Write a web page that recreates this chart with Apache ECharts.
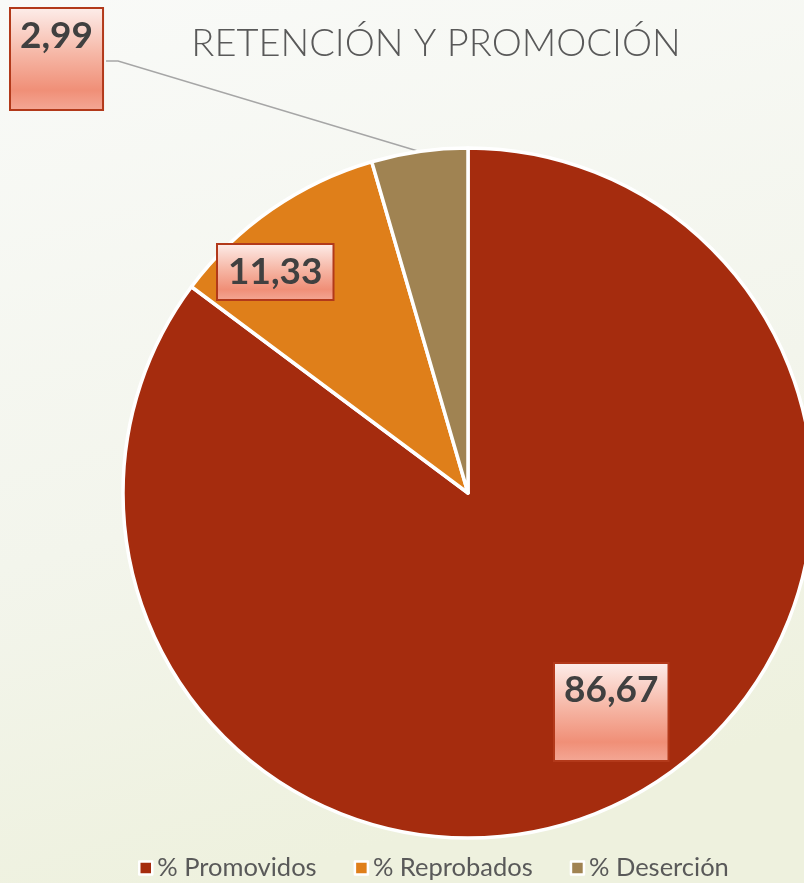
<!DOCTYPE html>
<html>
<head>
<meta charset="utf-8">
<script src="https://cdn.jsdelivr.net/npm/echarts@6/dist/echarts.min.js"></script>
<style>
    html, body { margin: 0; padding: 0; }
    #main { width: 804px; height: 883px; }
</style>
</head>
<body>
<div id="main"></div>
<script>
// categorias y valores
const categories = ['% Promovidos', '% Reprobados', '% Deserción']
// tamaño de cada porción tal como se ve en el dibujo
const sliceValues = [85.2, 10.3, 4.5]
// textos de las etiquetas
const labelTexts = ['86,67', '11,33', '2,99']
const colors = ['#a52c0e', '#df7f1a', '#a08352']

// posiciones de las cajas de etiquetas (esquina superior izquierda)
const labelBoxes = [
    { x: 555, y: 664, pad: [6, 9, 50, 9] },
    { x: 218, y: 245, pad: [7, 10, 7, 10] },
    { x: 11, y: 9, pad: [7, 9, 53, 9] },
]

const boxGradient = new echarts.graphic.LinearGradient(0, 0, 0, 1, [
    { offset: 0, color: '#fdeeeb' },
    { offset: 0.45, color: '#f6b7a6' },
    { offset: 0.8, color: '#f08f77' },
    { offset: 1, color: '#f4a896' },
])

const buildData = function () {
    let data = []
    for (let i = 0; i < categories.length; i++) {
        let b = labelBoxes[i]
        data.push({
            name: categories[i],
            value: sliceValues[i],
            itemStyle: { color: colors[i] },
            label: {
                position: i === 2 ? 'outside' : 'inside',
                padding: b.pad,
            },
            labelLine: { show: i === 2 },
        })
    }
    return data
}

const main = function () {
    let chart = echarts.init(document.getElementById('main'))
    let option = {
        backgroundColor: new echarts.graphic.LinearGradient(0, 0, 0.3, 1, [
            { offset: 0, color: '#f9faf8' },
            { offset: 0.6, color: '#f3f5ec' },
            { offset: 1, color: '#eef1de' },
        ]),
        title: {
            text: 'RETENCIÓN Y PROMOCIÓN',
            left: 431,
            textAlign: 'center',
            top: 20,
            textStyle: {
                fontFamily: 'Lato',
                fontWeight: 300,
                fontSize: 38,
                color: '#595959',
            },
        },
        legend: {
            top: 855,
            left: 138,
            icon: 'rect',
            itemWidth: 13,
            itemHeight: 13,
            itemGap: 37,
            padding: 0,
            itemStyle: { borderColor: '#ffffff', borderWidth: 2.5 },
            textStyle: {
                fontFamily: 'Lato',
                fontSize: 25.5,
                color: '#595959',
            },
            data: categories,
        },
        series: [{
            type: 'pie',
            center: [468, 493],
            radius: 345,
            startAngle: 90,
            clockwise: true,
            avoidLabelOverlap: false,
            silent: true,
            itemStyle: { borderColor: '#ffffff', borderWidth: 3.5 },
            label: {
                show: true,
                formatter: (p) => labelTexts[p.dataIndex],
                fontFamily: 'Lato',
                fontWeight: 'bold',
                fontSize: 37,
                lineHeight: 40,
                color: '#404040',
                backgroundColor: boxGradient,
                borderColor: '#b2391a',
                borderWidth: 2,
            },
            labelLine: {
                lineStyle: { color: '#a6a6a6', width: 1.5 },
            },
            labelLayout: function (p) {
                let b = labelBoxes[p.dataIndex]
                let r = {
                    x: b.x,
                    y: b.y,
                    align: 'left',
                    verticalAlign: 'top',
                }
                if (p.labelLinePoints) {
                    let w = p.labelRect.width
                    let h = p.labelRect.height
                    let yMid = b.y + h / 2
                    r.labelLinePoints = [
                        p.labelLinePoints[0],
                        [b.x + w + 12, yMid],
                        [b.x + w, yMid],
                    ]
                }
                return r
            },
            data: buildData(),
        }],
    }
    chart.setOption(option)
}

main()
</script>
</body>
</html>
